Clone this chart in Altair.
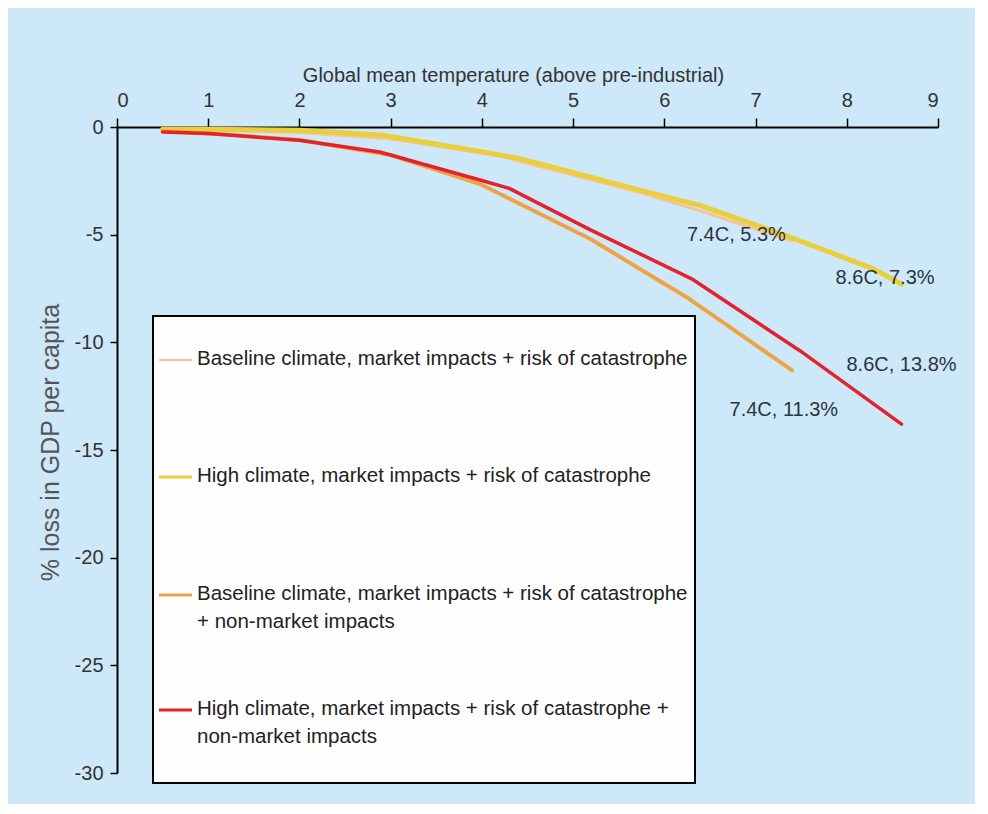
import altair as alt
import pandas as pd

# ---------------- data ----------------
temp_ticks = [0, 1, 2, 3, 4, 5, 6, 7, 8, 9]
loss_ticks = [0, -5, -10, -15, -20, -25, -30]

series_names = [
    "Baseline climate, market impacts + risk of catastrophe",
    "High climate, market impacts + risk of catastrophe",
    "Baseline climate, market impacts + risk of catastrophe + non-market impacts",
    "High climate, market impacts + risk of catastrophe + non-market impacts",
]
legend_labels = [
    "Baseline climate, market impacts + risk of catastrophe",
    "High climate, market impacts + risk of catastrophe",
    "Baseline climate, market impacts + risk of catastrophe\n+ non-market impacts",
    "High climate, market impacts + risk of catastrophe +\nnon-market impacts",
]

base_mkt_x = [0.5, 1.0, 2.0, 3.0, 4.2, 5.7, 6.4, 7.4]
base_mkt_y = [-0.1, -0.15, -0.25, -0.55, -1.35, -3.0, -3.9, -5.3]

high_mkt_x = [0.5, 1.0, 2.0, 2.9, 4.0, 4.4, 5.7, 6.4, 7.4, 8.3, 8.6]
high_mkt_y = [-0.1, -0.1, -0.15, -0.37, -1.15, -1.45, -2.9, -3.65, -5.15, -6.6, -7.3]

base_nm_x = [0.5, 1.0, 2.0, 3.0, 3.98, 5.19, 6.28, 7.4]
base_nm_y = [-0.2, -0.3, -0.6, -1.3, -2.65, -5.2, -8.0, -11.3]

high_nm_x = [0.5, 1.0, 2.0, 2.88, 3.98, 4.3, 5.19, 6.3, 7.49, 8.6]
high_nm_y = [-0.23, -0.3, -0.62, -1.16, -2.46, -2.85, -4.78, -7.05, -10.4, -13.8]

annot_text = ["7.4C, 5.3%", "8.6C, 7.3%", "8.6C, 13.8%", "7.4C, 11.3%"]
annot_x = [6.79, 8.42, 8.6, 7.31]
annot_y = [-5.02, -7.01, -11.05, -13.14]

# ---------------- styling ----------------
series_colors = ["#F5C49C", "#EACF3C", "#EEA445", "#E3222E"]
series_widths = [3, 5, 4, 3.5]
BG = "#CDE8F9"
FONT = "Liberation Sans"
TXT = "#2B3440"
FS = 20

# plot area geometry (page pixels) used only to place decorations
PL, PT, PW, PH = 117, 127, 821, 646
XMAX, YMIN = 9.0, -30.0


def px2x(px):
    return (px - PL) / PW * XMAX


def px2y(py):
    return (py - PT) / PH * YMIN


xs = [base_mkt_x, high_mkt_x, base_nm_x, high_nm_x]
ys = [base_mkt_y, high_mkt_y, base_nm_y, high_nm_y]

x_scale = alt.Scale(domain=[0, 9], nice=False, zero=False)
y_scale = alt.Scale(domain=[-30, 0], nice=False)

X_TITLE = "Global mean temperature (above pre-industrial)"
Y_TITLE = "% loss in GDP per capita"

x_axis = alt.Axis(
    orient="top", values=temp_ticks, title=X_TITLE,
    grid=False, domainColor="black", domainWidth=2, tickColor="black", tickWidth=1.5,
    tickSize=9, labelPadding=8, labelFontSize=FS, labelColor="#333333", labelFont=FONT,
    titleFont=FONT, titleFontSize=FS, titleFontWeight="normal", titleColor="#333333",
    titleX=396, titleY=-52, titleBaseline="middle", titleAlign="center",
)
y_axis = alt.Axis(
    orient="left", values=loss_ticks, title=Y_TITLE,
    grid=False, domainColor="black", domainWidth=2, tickColor="black", tickWidth=1.5,
    tickSize=7, labelPadding=7, labelFontSize=FS, labelColor="#333333", labelFont=FONT,
    labelExpr="'' + datum.value",
    titleFont=FONT, titleFontSize=25, titleFontWeight="normal", titleColor="#555555",
    titleX=-67, titleY=315, titleBaseline="middle", titleAlign="center", titleAngle=-90,
)


def X(field):
    return alt.X(field, scale=x_scale, axis=x_axis, title=X_TITLE)


def Y(field):
    return alt.Y(field, scale=y_scale, axis=y_axis, title=Y_TITLE)


layers = []
for i, name in enumerate(series_names):
    df = pd.DataFrame({"temp": xs[i], "loss": ys[i], "series": name})
    layers.append(
        alt.Chart(df).mark_line(color=series_colors[i], strokeWidth=series_widths[i],
                                strokeCap="round", strokeJoin="round").encode(
            x=X("temp:Q"), y=Y("loss:Q"))
    )

# annotations
ann_df = pd.DataFrame({"temp": annot_x, "loss": annot_y, "label": annot_text})
annotations = alt.Chart(ann_df).mark_text(
    font=FONT, fontSize=FS, color=TXT, align="center", baseline="middle"
).encode(x=X("temp:Q"), y=Y("loss:Q"), text="label:N")

# legend box
box_df = pd.DataFrame({"temp": [px2x(153)], "x2": [px2x(695)],
                       "loss": [px2y(316)], "y2": [px2y(783)]})
box = alt.Chart(box_df).mark_rect(fill="#FEFEFE", stroke="black", strokeWidth=2).encode(
    x=X("temp:Q"), x2="x2:Q", y=Y("loss:Q"), y2="y2:Q")

entry_centers = [360, 477, 595, 710]
sym_width = [2, 3, 3, 3]
leg_layers = []
for i in range(4):
    sdf = pd.DataFrame({"temp": [px2x(159)], "x2": [px2x(192)], "loss": [px2y(entry_centers[i])]})
    leg_layers.append(
        alt.Chart(sdf).mark_rule(color=series_colors[i], strokeWidth=sym_width[i]).encode(
            x=X("temp:Q"), x2="x2:Q", y=Y("loss:Q"))
    )
lab_df = pd.DataFrame({
    "temp": [px2x(197)] * 4,
    "loss": [px2y(c - 11) for c in entry_centers],
    "label": legend_labels,
})
leg_text = alt.Chart(lab_df).mark_text(
    font=FONT, fontSize=20.5, color="#222222", align="left", baseline="top",
    lineBreak="\n", lineHeight=28
).encode(x=X("temp:Q"), y=Y("loss:Q"), text="label:N")

chart = alt.layer(*layers, annotations, box, *leg_layers, leg_text).properties(
    width=PW, height=PH,
    background=BG,
    autosize=alt.AutoSizeParams(type="none"),
    padding={"left": PL - 8, "top": PT - 8, "right": 37, "bottom": 31},
).configure(font=FONT, view=alt.ViewConfig(stroke=None))

chart.save("out.html", embed_options={"renderer": "svg", "actions": False})
